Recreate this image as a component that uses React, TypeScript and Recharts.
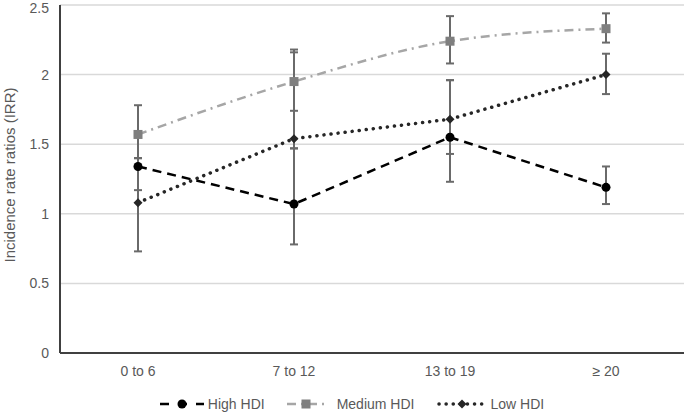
import { LineChart, Line, XAxis, YAxis, CartesianGrid, ErrorBar, Legend } from 'recharts'

const categories = ['0 to 6', '7 to 12', '13 to 19', '≥ 20']

const highHDI = [1.34, 1.07, 1.55, 1.19]
const highLower = [1.17, 0.78, 1.23, 1.07]
const highUpper = [1.4, 1.47, 1.96, 1.34]

const mediumHDI = [1.57, 1.95, 2.24, 2.33]
const mediumLower = [1.4, 1.74, 2.08, 2.23]
const mediumUpper = [1.78, 2.18, 2.42, 2.44]

const lowHDI = [1.08, 1.54, 1.68, 2.0]
const lowLower = [0.73, 1.47, 1.43, 1.86]
const lowUpper = [1.4, 2.16, 1.96, 2.15]

const yTicks = [0, 0.5, 1, 1.5, 2, 2.5]

const data = categories.map((cat, i) => ({
  cat,
  high: highHDI[i],
  highErr: [highHDI[i] - highLower[i], highUpper[i] - highHDI[i]],
  medium: mediumHDI[i],
  mediumErr: [mediumHDI[i] - mediumLower[i], mediumUpper[i] - mediumHDI[i]],
  low: lowHDI[i],
  lowErr: [lowHDI[i] - lowLower[i], lowUpper[i] - lowHDI[i]],
}))

const FONT = '"Liberation Sans", Arial, sans-serif'
const TEXT = '#595959'
const ERR = '#6a6a6a'

const HIGH_COLOR = '#000000'
const MED_LINE = '#a6a6a6'
const MED_MARK = '#7f7f7f'
const LOW_COLOR = '#262626'

const CircleDot = (props: any) => {
  const { cx, cy } = props
  if (cx == null || cy == null) return null
  return <circle cx={cx} cy={cy} r={4.5} fill={HIGH_COLOR} />
}

const SquareDot = (props: any) => {
  const { cx, cy } = props
  if (cx == null || cy == null) return null
  return <rect x={cx - 4.5} y={cy - 4.5} width={9} height={9} fill={MED_MARK} />
}

const DiamondDot = (props: any) => {
  const { cx, cy } = props
  if (cx == null || cy == null) return null
  return <path d={`M${cx},${cy - 4.5}L${cx + 4.5},${cy}L${cx},${cy + 4.5}L${cx - 4.5},${cy}Z`} fill={LOW_COLOR} />
}

const renderLegend = () => (
  <div
    style={{
      display: 'flex',
      justifyContent: 'center',
      alignItems: 'center',
      paddingLeft: 20,
      fontFamily: FONT,
      fontSize: 14,
      color: TEXT,
      height: 22,
    }}
  >
    <svg width={44} height={12} style={{ marginRight: 4 }}>
      <line x1={0} y1={6} x2={44} y2={6} stroke={HIGH_COLOR} strokeWidth={2.5} strokeDasharray="9 9" />
      <circle cx={22} cy={6} r={4.5} fill={HIGH_COLOR} />
    </svg>
    <span>High HDI</span>
    <svg width={38} height={12} style={{ marginLeft: 22, marginRight: 12 }}>
      <line x1={0} y1={6} x2={38} y2={6} stroke={MED_LINE} strokeWidth={2.5} strokeDasharray="9 5 2 5" />
      <rect x={14.5} y={1.5} width={9} height={9} fill={MED_MARK} />
    </svg>
    <span>Medium HDI</span>
    <svg width={50} height={12} style={{ marginLeft: 23, marginRight: 3 }}>
      <line x1={2} y1={6} x2={50} y2={6} stroke={LOW_COLOR} strokeWidth={3.5} strokeLinecap="round" strokeDasharray="0.1 7" />
      <path d="M25,1.5L29.5,6L25,10.5L20.5,6Z" fill={LOW_COLOR} />
    </svg>
    <span>Low HDI</span>
  </div>
)

export default function App() {
  return (
    <div style={{ position: 'absolute', left: 0, top: 0, background: '#fff' }}>
      <LineChart width={685} height={415} data={data} margin={{ top: 5, right: 1, left: 0, bottom: 0 }}>
        <CartesianGrid vertical={false} stroke="#d9d9d9" strokeWidth={1.5} />
        <XAxis
          dataKey="cat"
          scale="point"
          padding={{ left: 78, right: 78 }}
          height={40}
          tickLine={false}
          tickMargin={7}
          axisLine={{ stroke: '#404040', strokeWidth: 2 }}
          tick={{ fill: TEXT, fontSize: 14, fontFamily: FONT }}
        />
        <YAxis
          width={60}
          domain={[0, 2.5]}
          ticks={yTicks}
          tickLine={false}
          tickMargin={5}
          axisLine={{ stroke: '#404040', strokeWidth: 2 }}
          tick={{ fill: TEXT, fontSize: 14, fontFamily: FONT }}
          label={{
            value: 'Incidence rate ratios (IRR)',
            angle: -90,
            position: 'center',
            dx: -20,
            dy: -4,
            style: { fill: TEXT, fontSize: 15, fontFamily: FONT },
          }}
        />
        <Legend verticalAlign="bottom" height={22} content={renderLegend} />
        <Line
          type="linear"
          dataKey="high"
          name="High HDI"
          stroke={HIGH_COLOR}
          strokeWidth={2.5}
          strokeDasharray="9 6"
          dot={<CircleDot />}
          activeDot={false}
          isAnimationActive={false}
        >
          <ErrorBar dataKey="highErr" width={4} stroke={ERR} strokeWidth={2} direction="y" />
        </Line>
        <Line
          type="monotone"
          dataKey="medium"
          name="Medium HDI"
          stroke={MED_LINE}
          strokeWidth={2.5}
          strokeDasharray="9 5 2 5"
          dot={<SquareDot />}
          activeDot={false}
          isAnimationActive={false}
        >
          <ErrorBar dataKey="mediumErr" width={4} stroke={ERR} strokeWidth={2} direction="y" />
        </Line>
        <Line
          type="linear"
          dataKey="low"
          name="Low HDI"
          stroke={LOW_COLOR}
          strokeWidth={3.5}
          strokeLinecap="round"
          strokeDasharray="0.1 7"
          dot={<DiamondDot />}
          activeDot={false}
          isAnimationActive={false}
        >
          <ErrorBar dataKey="lowErr" width={4} stroke={ERR} strokeWidth={2} direction="y" />
        </Line>
      </LineChart>
    </div>
  )
}
